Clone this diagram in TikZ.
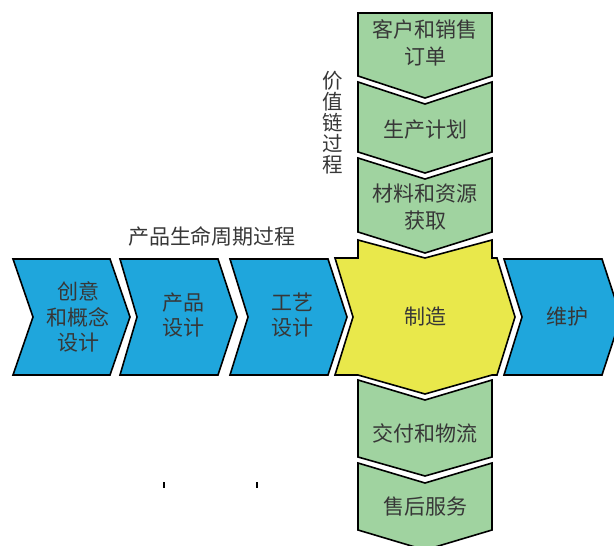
\documentclass[tikz,border=0pt]{standalone}
\usepackage{fontspec}
\setmainfont{Noto Sans CJK SC}
\definecolor{blu}{RGB}{31,166,220}
\definecolor{grn}{RGB}{160,211,160}
\definecolor{yel}{RGB}{233,232,75}
\definecolor{txt}{RGB}{55,55,55}
\begin{document}
\begin{tikzpicture}[x=1pt,y=-1pt,
  shp/.style={draw=black,line width=1.6pt,line join=miter},
  lbl/.style={text=txt,font=\fontsize{21}{25.5}\selectfont,align=center,inner sep=0pt},
  glbl/.style={text=txt,font=\fontsize{21}{27}\selectfont,align=center,inner sep=0pt},
  vlbl/.style={text=txt,font=\fontsize{20.5}{21}\selectfont,align=center,inner sep=0pt},
  tick/.style={draw=black,line width=1.3pt}]
\useasboundingbox (0,0) rectangle (614,546);
% blue chevrons
\path[shp,fill=blu] (13,259) -- (110,259) -- (130,317) -- (110,375) -- (13,375) -- (33,317) -- cycle;
\path[shp,fill=blu] (120,259) -- (218,259) -- (237,317) -- (218,375) -- (120,375) -- (137,317) -- cycle;
\path[shp,fill=blu] (230,259) -- (328,259) -- (347,317) -- (328,375) -- (230,375) -- (248,317) -- cycle;
\path[shp,fill=blu] (504,259) -- (602,259) -- (621,317) -- (602,375) -- (504,375) -- (522,317) -- cycle;
% yellow
\path[shp,fill=yel] (335,258) -- (358,258) -- (358,240) -- (425,258) -- (492,240) -- (492,258) -- (497,258) -- (515,317) -- (497,375) -- (492,375) -- (425,394) -- (358,375) -- (335,375) -- (353,317) -- cycle;
% green boxes
\path[shp,fill=grn] (358,13) -- (492,13) -- (492,76) -- (425,98) -- (358,76) -- cycle;
\path[shp,fill=grn] (358,82) -- (425,104) -- (492,82) -- (492,152) -- (425,173) -- (358,152) -- cycle;
\path[shp,fill=grn] (358,158) -- (425,179) -- (492,158) -- (492,232) -- (425,253) -- (358,232) -- cycle;
\path[shp,fill=grn] (358,380) -- (425,400) -- (492,380) -- (492,457) -- (425,476) -- (358,457) -- cycle;
\path[shp,fill=grn] (358,463) -- (425,483) -- (492,463) -- (492,530) -- (425,550) -- (358,530) -- cycle;
% labels
\node[lbl] (t1) at (78,317) {创意\\和概念\\设计};
\node[lbl] (t2) at (183,315) {产品\\设计};
\node[lbl] (t3) at (292,315) {工艺\\设计};
\node[lbl] (t4) at (425,317) {制造};
\node[lbl] (t5) at (567,317) {维护};
\node[glbl] (g1) at (425,43) {客户和销售\\订单};
\node[glbl] (g2) at (425,130) {生产计划};
\node[glbl] (g3) at (425,207) {材料和资源\\获取};
\node[glbl] (g4) at (425,433) {交付和物流};
\node[glbl] (g5) at (425,507) {售后服务};
\node[vlbl] (vc) at (333,123) {价\\值\\链\\过\\程};
\node[lbl] (plc) at (212,236) {产品生命周期过程};
% small ticks
\coordinate (k1a) at (164,482); \coordinate (k1b) at (164,488);
\coordinate (k2a) at (257,482); \coordinate (k2b) at (257,488);
\draw[tick] (k1a) -- (k1b);
\draw[tick] (k2a) -- (k2b);
\end{tikzpicture}
\end{document}
